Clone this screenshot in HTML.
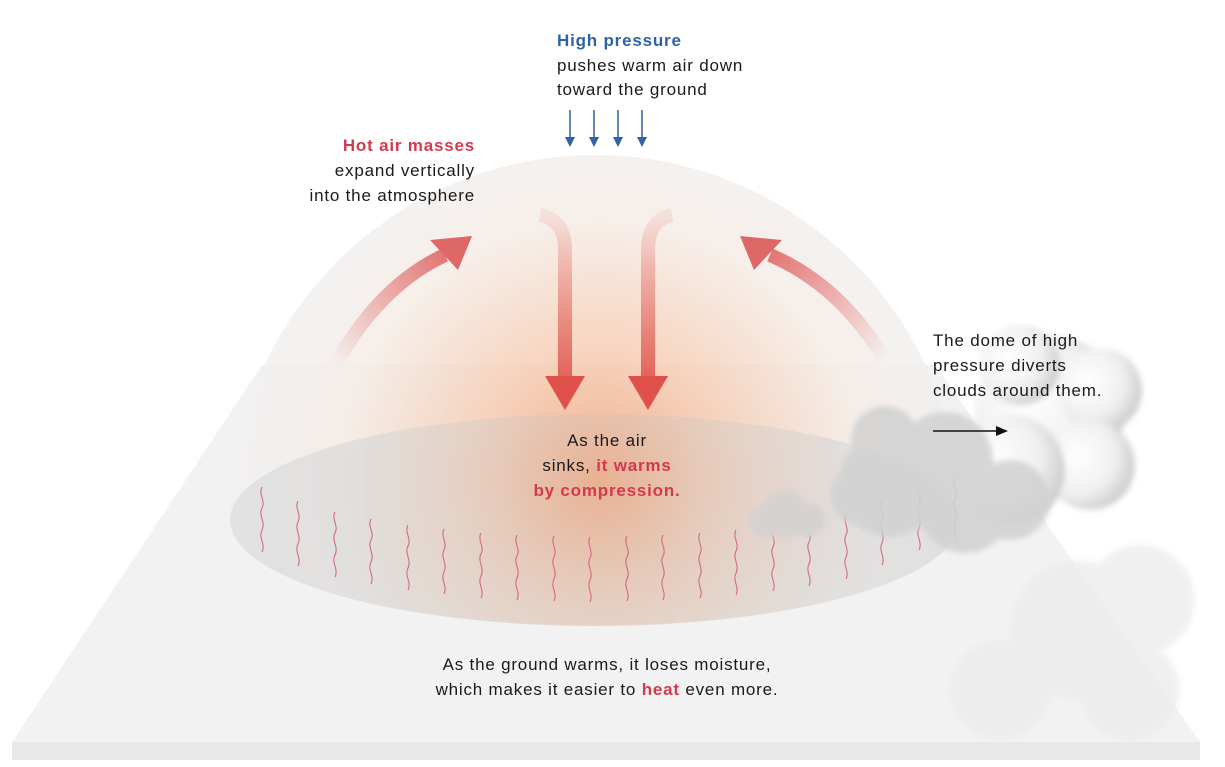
<!DOCTYPE html>
<html><head><meta charset="utf-8"><style>
html,body{margin:0;padding:0;background:#fff}
svg{display:block}
text{font-family:"Liberation Sans",sans-serif;font-size:17px;letter-spacing:0.8px;fill:#1a1a1a}
.b{font-weight:bold}
</style></head><body>
<svg width="1225" height="767" viewBox="0 0 1225 767" xmlns="http://www.w3.org/2000/svg">
<defs>
<radialGradient id="dome" cx="600" cy="480" r="370" gradientUnits="userSpaceOnUse">
<stop offset="0" stop-color="#f2a47c"/><stop offset="0.35" stop-color="#f6cdb4"/><stop offset="0.7" stop-color="#f5ece6"/><stop offset="1" stop-color="#f1f1f1"/>
</radialGradient>
<radialGradient id="grd" cx="600" cy="480" r="300" gradientUnits="userSpaceOnUse">
<stop offset="0" stop-color="#eca27b" stop-opacity="0.7"/><stop offset="0.5" stop-color="#e8c6b0" stop-opacity="0.4"/><stop offset="1" stop-color="#d8d8d8" stop-opacity="0"/>
</radialGradient>
<linearGradient id="dn" x1="0" y1="215" x2="0" y2="410" gradientUnits="userSpaceOnUse">
<stop offset="0" stop-color="#e35a55" stop-opacity="0.1"/><stop offset="1" stop-color="#e0504a"/>
</linearGradient>
<linearGradient id="la" x1="335" y1="365" x2="470" y2="240" gradientUnits="userSpaceOnUse">
<stop offset="0" stop-color="#e0605c" stop-opacity="0"/><stop offset="1" stop-color="#de6060"/>
</linearGradient>
<linearGradient id="ra" x1="885" y1="360" x2="745" y2="240" gradientUnits="userSpaceOnUse">
<stop offset="0" stop-color="#e0605c" stop-opacity="0"/><stop offset="1" stop-color="#de6060"/>
</linearGradient>
<radialGradient id="cl" cx="0.35" cy="0.4" r="0.7">
<stop offset="0" stop-color="#ffffff"/><stop offset="0.6" stop-color="#f0f0f0"/><stop offset="1" stop-color="#c8c8c8"/>
</radialGradient>
<filter id="bl" x="-20%" y="-20%" width="140%" height="140%"><feGaussianBlur stdDeviation="3"/></filter>
<path id="sq" d="M0 0 c-4 7 4 14 0 21 s4 14 0 22 s4 14 0 22" fill="none" stroke="#d46a85" stroke-width="1.1"/>
</defs>
<polygon points="262,365 935,365 1200,742 12,742" fill="#f2f2f2"/>
<rect x="12" y="742" width="1188" height="18" fill="#e8e8e8"/>
<g fill="#ebebeb" opacity="0.7" filter="url(#bl)">
<circle cx="1080" cy="630" r="70"/><circle cx="1140" cy="600" r="55"/><circle cx="1000" cy="690" r="50"/><circle cx="1130" cy="690" r="50"/>
</g>
<path d="M230,520 A365,365 0 0 1 960,520 A365,105 0 0 1 230,520Z" fill="url(#dome)" opacity="0.85"/>
<ellipse cx="595" cy="520" rx="365" ry="106" fill="#dcdcdc" opacity="0.75"/>
<ellipse cx="595" cy="520" rx="365" ry="106" fill="url(#grd)"/>
<g>
<use href="#sq" x="262" y="487"/><use href="#sq" x="298" y="501"/><use href="#sq" x="335" y="512"/><use href="#sq" x="371" y="519"/><use href="#sq" x="408" y="525"/>
<use href="#sq" x="444" y="529"/><use href="#sq" x="481" y="533"/><use href="#sq" x="517" y="535"/><use href="#sq" x="554" y="536"/><use href="#sq" x="590" y="537"/>
<use href="#sq" x="627" y="536"/><use href="#sq" x="663" y="535"/><use href="#sq" x="700" y="533"/><use href="#sq" x="736" y="530"/><use href="#sq" x="773" y="526"/>
<use href="#sq" x="809" y="521"/><use href="#sq" x="846" y="514"/><use href="#sq" x="882" y="500"/><use href="#sq" x="919" y="485"/><use href="#sq" x="955" y="478"/>
</g>
<path d="M335,365 Q380,285 445,255" fill="none" stroke="url(#la)" stroke-width="14"/>
<polygon points="472,236 430,240 458,270" fill="#de6868"/>
<path d="M885,360 Q840,285 770,255" fill="none" stroke="url(#ra)" stroke-width="14"/>
<polygon points="740,236 782,240 754,270" fill="#de6868"/>
<path d="M540,215 Q565,220 565,250 L565,378" fill="none" stroke="url(#dn)" stroke-width="14"/>
<polygon points="545,376 585,376 565,410" fill="#e0504a"/>
<path d="M672,215 Q648,220 648,250 L648,378" fill="none" stroke="url(#dn)" stroke-width="14"/>
<polygon points="628,376 668,376 648,410" fill="#e0504a"/>
<g fill="url(#cl)" filter="url(#bl)">
<circle cx="1050" cy="410" r="75"/><circle cx="1020" cy="365" r="40"/><circle cx="1100" cy="390" r="42"/><circle cx="1090" cy="465" r="45"/><circle cx="1010" cy="470" r="55"/>
</g>
<g fill="#d2d2d2" opacity="0.88" filter="url(#bl)">
<circle cx="890" cy="485" r="52"/><circle cx="945" cy="460" r="48"/><circle cx="965" cy="505" r="48"/><circle cx="885" cy="440" r="34"/><circle cx="1010" cy="500" r="40"/><circle cx="860" cy="495" r="30"/>
</g>
<g fill="#d6d2d0" filter="url(#bl)">
<circle cx="785" cy="515" r="24"/><circle cx="765" cy="522" r="16"/><circle cx="808" cy="520" r="17"/>
</g>
<g stroke="#2e62a8" stroke-width="1.5" fill="#2e62a8">
<line x1="570" y1="110" x2="570" y2="138"/><polygon points="565,137 575,137 570,147" stroke="none"/>
<line x1="594" y1="110" x2="594" y2="138"/><polygon points="589,137 599,137 594,147" stroke="none"/>
<line x1="618" y1="110" x2="618" y2="138"/><polygon points="613,137 623,137 618,147" stroke="none"/>
<line x1="642" y1="110" x2="642" y2="138"/><polygon points="637,137 647,137 642,147" stroke="none"/>
</g>
<line x1="933" y1="431" x2="998" y2="431" stroke="#111" stroke-width="1.5"/>
<polygon points="996,426 1008,431 996,436" fill="#111"/>
<text x="557" y="46" class="b" style="fill:#2e62a8">High pressure</text>
<text x="557" y="71">pushes warm air down</text>
<text x="557" y="95">toward the ground</text>
<text x="475" y="151" text-anchor="end" class="b" style="fill:#d33a4e">Hot air masses</text>
<text x="475" y="176" text-anchor="end">expand vertically</text>
<text x="475" y="201" text-anchor="end">into the atmosphere</text>
<text x="933" y="346">The dome of high</text>
<text x="933" y="371">pressure diverts</text>
<text x="933" y="396">clouds around them.</text>
<text x="607" y="446" text-anchor="middle">As the air</text>
<text x="607" y="471" text-anchor="middle">sinks, <tspan class="b" style="fill:#d33a4e">it warms</tspan></text>
<text x="607" y="496" text-anchor="middle" class="b" style="fill:#d33a4e">by compression.</text>
<text x="607" y="670" text-anchor="middle">As the ground warms, it loses moisture,</text>
<text x="607" y="695" text-anchor="middle">which makes it easier to <tspan class="b" style="fill:#d33a4e">heat</tspan> even more.</text>
</svg>
</body></html>
